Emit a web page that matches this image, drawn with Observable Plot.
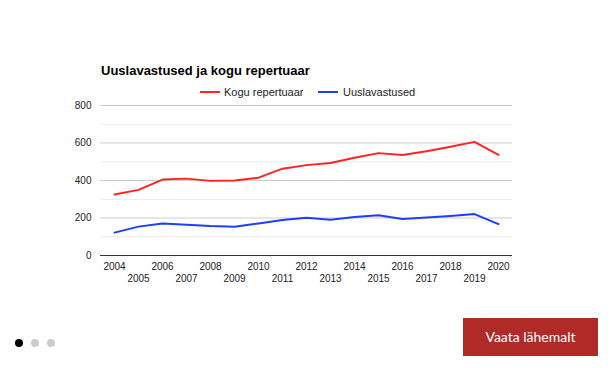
<!DOCTYPE html>
<html>
<head>
<meta charset="utf-8">
<script src="https://cdn.jsdelivr.net/npm/d3@7"></script>
<script src="https://cdn.jsdelivr.net/npm/@observablehq/plot@0.6"></script>
<style>
  html, body { margin: 0; padding: 0; background: #fff; }
  body { width: 610px; height: 368px; position: relative; overflow: hidden; font-family: "Liberation Sans", Arial, sans-serif; }
  #chart { position: absolute; left: 0; top: 0; }
  .title { position: absolute; left: 101px; top: 63px; font-size: 13px; font-weight: bold; color: #000; white-space: nowrap; line-height: 16px; }
  .legend { position: absolute; top: 85px; font-size: 11px; color: #222; white-space: nowrap; line-height: 14px; }
  .legend .sw { position: absolute; top: 6px; width: 20px; height: 2px; }
  .dot { position: absolute; width: 8px; height: 8px; border-radius: 50%; top: 339px; }
  .btn { position: absolute; left: 463px; top: 318px; width: 135px; height: 38px; background: #b02a28; color: #fff; font-family: Lato, sans-serif; font-size: 14px; line-height: 38px; text-align: center; }
</style>
</head>
<body>
<div id="chart"></div>
<div class="title">Uuslavastused ja kogu repertuaar</div>
<div class="legend" style="left:200px;"><span class="sw" style="left:0;background:#ff2323;"></span><span style="margin-left:24px;">Kogu repertuaar</span></div>
<div class="legend" style="left:318px;"><span class="sw" style="left:0;background:#1f3dff;"></span><span style="margin-left:25px;">Uuslavastused</span></div>
<div class="dot" style="left:15px;background:#000;"></div>
<div class="dot" style="left:31px;background:#ccc;"></div>
<div class="dot" style="left:47px;background:#ccc;"></div>
<div class="btn">Vaata lähemalt</div>
<script>
const years = ["2004","2005","2006","2007","2008","2009","2010","2011","2012","2013","2014","2015","2016","2017","2018","2019","2020"];
const koguRepertuaar = [325, 350, 405, 410, 398, 400, 415, 463, 482, 493, 521, 546, 536, 556, 580, 606, 537];
const uuslavastused = [122, 154, 171, 164, 157, 153, 171, 189, 201, 191, 205, 215, 195, 203, 211, 221, 167];
const seriesNames = ["Kogu repertuaar", "Uuslavastused"];
const seriesColors = ["#ff2323", "#1f3dff"];
const majorTicks = [0, 200, 400, 600, 800];
const minorTicks = [100, 300, 500, 700];

const rows = [];
years.forEach((y, i) => {
  rows.push({year: y, value: koguRepertuaar[i], series: seriesNames[0]});
  rows.push({year: y, value: uuslavastused[i], series: seriesNames[1]});
});
const evenYears = years.filter((d, i) => i % 2 === 0);
const oddYears = years.filter((d, i) => i % 2 === 1);

const chart = Plot.plot({
  width: 610,
  height: 300,
  marginLeft: 100,
  marginRight: 98,
  marginTop: 105,
  marginBottom: 45,
  style: {fontFamily: "'Liberation Sans', Arial, sans-serif", fontSize: "10px", color: "#222", background: "transparent"},
  x: {type: "point", domain: years, padding: 0.5, axis: null},
  y: {domain: [0, 800], axis: null},
  color: {domain: seriesNames, range: seriesColors},
  marks: [
    Plot.gridY(minorTicks, {stroke: "#ececec", strokeOpacity: 1}),
    Plot.gridY(majorTicks.slice(1), {stroke: "#cccccc", strokeOpacity: 1}),
    Plot.axisY(majorTicks, {tickSize: 0, tickPadding: 9, fontSize: 10, fill: "#222", label: null}),
    Plot.axisX(evenYears, {tickSize: 0, tickPadding: 7, fontSize: 10, fill: "#222", label: null}),
    Plot.axisX(oddYears, {tickSize: 0, tickPadding: 19, fontSize: 10, fill: "#222", label: null}),
    Plot.line(rows, {x: "year", y: "value", z: "series", stroke: "series", strokeWidth: 2, curve: "linear"}),
    Plot.ruleY([0], {stroke: "#333"})
  ]
});
document.getElementById("chart").appendChild(chart);
</script>
</body>
</html>
